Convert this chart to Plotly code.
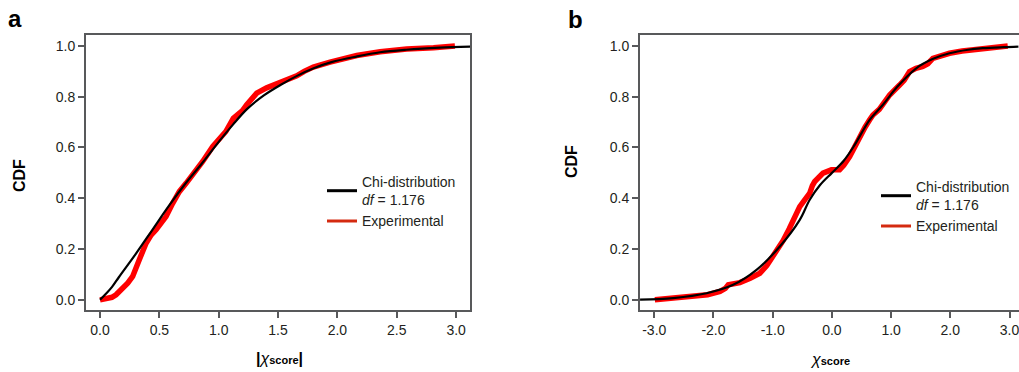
import plotly.graph_objects as go

W, H = 1019, 372

# ---------------- data ----------------
# Panel a : |chi score|
a_chi_x = [0, 0.05, 0.1, 0.16, 0.3, 0.44, 0.58, 0.72, 0.86, 1.0, 1.12, 1.24, 1.38, 1.52,
           1.66, 1.8, 1.95, 2.16, 2.36, 2.58, 2.86, 3.12]
a_chi_y = [0, 0.024, 0.05, 0.09, 0.18, 0.275, 0.37, 0.458, 0.538, 0.622, 0.69, 0.752, 0.805,
           0.846, 0.882, 0.912, 0.936, 0.958, 0.975, 0.985, 0.993, 0.997]

a_exp_x = [0, 0.05, 0.1, 0.135, 0.18, 0.233, 0.275, 0.3, 0.33, 0.388, 0.43, 0.472, 0.515,
           0.556, 0.612, 0.668, 0.725, 0.78, 0.865, 0.95, 1.06, 1.123, 1.2, 1.236, 1.28, 1.32,
           1.404, 1.516, 1.657, 1.72, 1.797, 1.938, 2.022, 2.163, 2.36, 2.584, 2.81, 2.9, 2.99]
a_exp_y = [0, 0.003, 0.01, 0.02, 0.04, 0.066, 0.092, 0.118, 0.157, 0.223, 0.255, 0.276, 0.302,
           0.328, 0.38, 0.426, 0.459, 0.492, 0.545, 0.604, 0.663, 0.715, 0.745, 0.768, 0.795,
           0.814, 0.835, 0.855, 0.882, 0.9, 0.917, 0.936, 0.945, 0.962, 0.977, 0.988, 0.993,
           0.995, 1.0]

# Panel b : signed chi score
b_chi_x = [-3.24, -2.68, -2.116, -1.668, -1.273, -0.88, -0.543, -0.374, -0.2, 0.0, 0.2, 0.374,
           0.638, 0.862, 1.1, 1.425, 1.7, 1.986, 2.3, 2.548, 2.9, 3.15]
b_chi_y = [0.001, 0.007, 0.026, 0.059, 0.118, 0.21, 0.315, 0.394, 0.452, 0.5, 0.548, 0.606,
           0.709, 0.768, 0.838, 0.912, 0.948, 0.971, 0.985, 0.991, 0.995, 0.997]

b_exp_x = [-2.99, -2.7, -2.4, -2.1, -1.89, -1.8, -1.75, -1.555, -1.38, -1.217, -1.1, -0.993,
           -0.825, -0.72, -0.656, -0.543, -0.459, -0.374, -0.33, -0.29, -0.15, -0.008, 0.13,
           0.2, 0.30, 0.413, 0.469, 0.56, 0.638, 0.693, 0.8, 0.975, 1.143, 1.22, 1.312, 1.42,
           1.536, 1.62, 1.705, 1.986, 2.2, 2.548, 2.8, 2.97]
b_exp_y = [0.0, 0.005, 0.01, 0.02, 0.033, 0.045, 0.059, 0.068, 0.085, 0.105, 0.135, 0.17,
           0.233, 0.28, 0.315, 0.367, 0.394, 0.42, 0.45, 0.466, 0.499, 0.512, 0.512, 0.53,
           0.564, 0.617, 0.637, 0.68, 0.709, 0.728, 0.75, 0.807, 0.846, 0.865, 0.899, 0.912,
           0.919, 0.93, 0.951, 0.971, 0.98, 0.991, 0.995, 1.0]

y_ticks = [0.0, 0.2, 0.4, 0.6, 0.8, 1.0]
y_ticktext = ["0.0", "0.2", "0.4", "0.6", "0.8", "1.0"]
a_xticks = [0.0, 0.5, 1.0, 1.5, 2.0, 2.5, 3.0]
a_xticktext = ["0.0", "0.5", "1.0", "1.5", "2.0", "2.5", "3.0"]
b_xticks = [-3.0, -2.0, -1.0, 0.0, 1.0, 2.0, 3.0]
b_xticktext = ["-3.0", "-2.0", "-1.0", "0.0", "1.0", "2.0", "3.0"]

chi_name = "Chi-distribution<br><i>df</i> = 1.176"
exp_name = "Experimental"

FONT = "Liberation Sans, Arial, sans-serif"
AX = "#58595b"
TXT = "#231f20"
RED = "#ff0000"
RED_LEG = "#d42a10"

fig = go.Figure()

for (ex, ey, cx, cy, xa, ya, lg) in [
    (a_exp_x, a_exp_y, a_chi_x, a_chi_y, "x", "y", "legend"),
    (b_exp_x, b_exp_y, b_chi_x, b_chi_y, "x2", "y2", "legend2"),
]:
    fig.add_trace(go.Scatter(x=ex, y=ey, mode="lines", xaxis=xa, yaxis=ya,
                             line=dict(color=RED, width=5.5), showlegend=False,
                             hoverinfo="skip"))
    fig.add_trace(go.Scatter(x=cx, y=cy, mode="lines", xaxis=xa, yaxis=ya,
                             line=dict(color="black", width=2.2, shape="spline"),
                             showlegend=False, hoverinfo="skip"))
    # legend entries
    fig.add_trace(go.Scatter(x=[None], y=[None], mode="lines", xaxis=xa, yaxis=ya,
                             line=dict(color="black", width=3), name=chi_name, legend=lg))
    fig.add_trace(go.Scatter(x=[None], y=[None], mode="lines", xaxis=xa, yaxis=ya,
                             line=dict(color=RED_LEG, width=3), name=exp_name, legend=lg))


def px_x(p):
    return p / W


def px_y(p):
    return (H - p) / H


axis_common = dict(showline=True, linecolor=AX, linewidth=2, ticks="outside",
                   ticklen=6, tickwidth=1.5, tickcolor=AX, showgrid=False, zeroline=False,
                   ticklabeloverflow="allow",
                   tickfont=dict(family=FONT, size=14, color=TXT))

legend_common = dict(bgcolor="rgba(0,0,0,0)", font=dict(family=FONT, size=14, color=TXT),
                     xanchor="left", yanchor="top", tracegroupgap=0, itemwidth=30)

fig.update_layout(
    width=W, height=H,
    margin=dict(l=0, r=0, t=0, b=0),
    paper_bgcolor="white", plot_bgcolor="white",
    xaxis=dict(domain=[px_x(86), px_x(470)], range=[-0.118, 3.117], anchor="y",
               tickvals=a_xticks, ticktext=a_xticktext, mirror=True, **axis_common),
    yaxis=dict(domain=[px_y(310), px_y(35)], range=[-0.04, 1.043], anchor="x",
               tickvals=y_ticks, ticktext=y_ticktext, mirror=True, **axis_common),
    xaxis2=dict(domain=[px_x(640), 1.0], range=[-3.241, 3.16], anchor="y2",
                tickvals=b_xticks, ticktext=b_xticktext, mirror=True, **axis_common),
    yaxis2=dict(domain=[px_y(310), px_y(35)], range=[-0.04, 1.043], anchor="x2",
                tickvals=y_ticks, ticktext=y_ticktext, mirror=False, **axis_common),
    legend=dict(x=px_x(322), y=px_y(166), **legend_common),
    legend2=dict(x=px_x(876), y=px_y(171), **legend_common),
    showlegend=True,
)

ann = [
    dict(text="<b>a</b>", x=px_x(15), y=px_y(19), size=24),
    dict(text="<b>b</b>", x=px_x(575), y=px_y(20), size=24),
    dict(text="<b>CDF</b>", x=px_x(19), y=px_y(176), size=16, angle=-90),
    dict(text="<b>CDF</b>", x=px_x(572), y=px_y(162), size=16, angle=-90),
    dict(text="<b>|</b><i>χ</i><b><span style='font-size:11px'>score</span>|</b>",
         x=px_x(279), y=px_y(358), size=16),
    dict(text="<i>χ</i><b><span style='font-size:11px'>score</span></b>",
         x=px_x(830), y=px_y(359), size=16),
]
for a in ann:
    fig.add_annotation(text=a["text"], x=a["x"], y=a["y"], xref="paper", yref="paper",
                       xanchor="center", yanchor="middle", showarrow=False,
                       textangle=a.get("angle", 0),
                       font=dict(family=FONT, size=a["size"], color="black"))

fig.write_html("out.html", config={"displayModeBar": False},
               post_script="document.body.style.margin='0';document.body.style.overflow='hidden';")
